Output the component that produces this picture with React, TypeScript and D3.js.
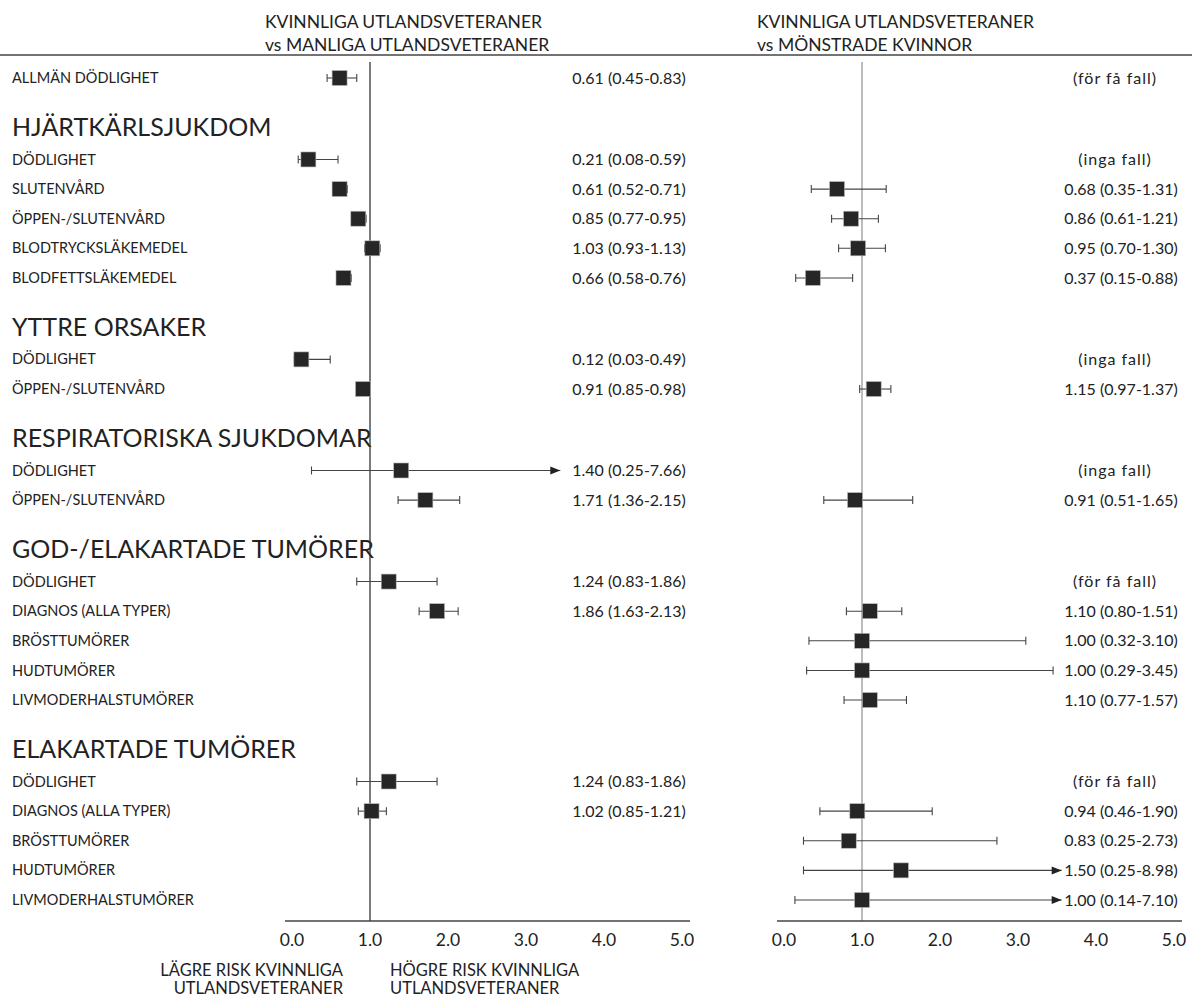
import React from 'react'
import * as d3 from 'd3'

// rows (excluding section headers)
const itemLabels = [
  'ALLMÄN DÖDLIGHET',
  'DÖDLIGHET', 'SLUTENVÅRD', 'ÖPPEN-/SLUTENVÅRD', 'BLODTRYCKSLÄKEMEDEL', 'BLODFETTSLÄKEMEDEL',
  'DÖDLIGHET', 'ÖPPEN-/SLUTENVÅRD',
  'DÖDLIGHET', 'ÖPPEN-/SLUTENVÅRD',
  'DÖDLIGHET', 'DIAGNOS (ALLA TYPER)', 'BRÖSTTUMÖRER', 'HUDTUMÖRER', 'LIVMODERHALSTUMÖRER',
  'DÖDLIGHET', 'DIAGNOS (ALLA TYPER)', 'BRÖSTTUMÖRER', 'HUDTUMÖRER', 'LIVMODERHALSTUMÖRER',
]
const itemSection = [0, 1, 1, 1, 1, 1, 2, 2, 3, 3, 4, 4, 4, 4, 4, 5, 5, 5, 5, 5]
const sectionTitles = ['', 'HJÄRTKÄRLSJUKDOM', 'YTTRE ORSAKER', 'RESPIRATORISKA SJUKDOMAR', 'GOD-/ELAKARTADE TUMÖRER', 'ELAKARTADE TUMÖRER']

// kvinnliga vs manliga utlandsveteraner
const leftEst = [0.61, 0.21, 0.61, 0.85, 1.03, 0.66, 0.12, 0.91, 1.40, 1.71, 1.24, 1.86, null, null, null, 1.24, 1.02, null, null, null]
const leftLo = [0.45, 0.08, 0.52, 0.77, 0.93, 0.58, 0.03, 0.85, 0.25, 1.36, 0.83, 1.63, null, null, null, 0.83, 0.85, null, null, null]
const leftHi = [0.83, 0.59, 0.71, 0.95, 1.13, 0.76, 0.49, 0.98, 7.66, 2.15, 1.86, 2.13, null, null, null, 1.86, 1.21, null, null, null]
const leftNotes: (string | null)[] = itemLabels.map(() => null)

// kvinnliga utlandsveteraner vs mönstrade kvinnor
const rightEst = [null, null, 0.68, 0.86, 0.95, 0.37, null, 1.15, null, 0.91, null, 1.10, 1.00, 1.00, 1.10, null, 0.94, 0.83, 1.50, 1.00]
const rightLo = [null, null, 0.35, 0.61, 0.70, 0.15, null, 0.97, null, 0.51, null, 0.80, 0.32, 0.29, 0.77, null, 0.46, 0.25, 0.25, 0.14]
const rightHi = [null, null, 1.31, 1.21, 1.30, 0.88, null, 1.37, null, 1.65, null, 1.51, 3.10, 3.45, 1.57, null, 1.90, 2.73, 8.98, 7.10]
const rightNotes = ['(för få fall)', '(inga fall)', null, null, null, null, '(inga fall)', null, '(inga fall)', null, '(för få fall)', null, null, null, null, '(för få fall)', null, null, null, null]

const ticks = [0, 1, 2, 3, 4, 5]

const FONT = 'Lato, "DejaVu Sans", sans-serif'
const INK = '#222'

const fmt = d3.format('.2f')

// vertical slot layout: 1 per item, extra space around section headers
const slots: number[] = []
const headerSlots: { title: string; s: number }[] = []
{
  let s = 0
  itemSection.forEach((sec, i) => {
    if (i > 0) {
      if (sec !== itemSection[i - 1]) {
        s += 1.67
        headerSlots.push({ title: sectionTitles[sec], s })
        s += 1.08
      } else s += 1
    }
    slots.push(s)
  })
}
const y = d3.scaleLinear().domain([0, slots[slots.length - 1]]).range([78, 900])

interface PanelProps {
  x0: number
  est: (number | null)[]
  lo: (number | null)[]
  hi: (number | null)[]
  notes: (string | null)[]
  textX: number
  noteX: number
  clip: number
  refColor: string
}

const Panel: React.FC<PanelProps> = ({ x0, est, lo, hi, notes, textX, noteX, clip, refColor }) => {
  const x = d3.scaleLinear().domain([0, 5]).range([x0, x0 + 390])
  const axisY = 921
  const box = 15
  return (
    <g>
      <line x1={x(1)} x2={x(1)} y1={62} y2={axisY} stroke={refColor} strokeWidth={1.3} />
      <line x1={x(0) - 7} x2={x(5) + 8} y1={axisY} y2={axisY} stroke="#444" strokeWidth={1.3} />
      {ticks.map((t) => (
        <text key={t} x={x(t)} y={940} dy="0.35em" textAnchor="middle" fontSize={17.5} fill={INK}>
          {t.toFixed(1)}
        </text>
      ))}
      {est.map((e, i) => {
        const cy = y(slots[i])
        const note = notes[i]
        if (e == null) {
          return note ? (
            <text key={i} x={noteX} y={cy} dy="0.35em" textAnchor="middle" fontSize={16} letterSpacing={1} fill={INK}>
              {note}
            </text>
          ) : null
        }
        const l = lo[i] as number
        const h = hi[i] as number
        const arrow = h > clip
        const xr = x(Math.min(h, clip))
        return (
          <g key={i}>
            <line x1={x(l)} x2={xr} y1={cy} y2={cy} stroke="#444" strokeWidth={1.1} />
            <line x1={x(l)} x2={x(l)} y1={cy - 4} y2={cy + 4} stroke="#444" strokeWidth={1.1} />
            {arrow ? (
              <path d={`M${xr},${cy} L${xr - 10},${cy - 4} L${xr - 10},${cy + 4} Z`} fill="#222" />
            ) : (
              <line x1={xr} x2={xr} y1={cy - 4} y2={cy + 4} stroke="#444" strokeWidth={1.1} />
            )}
            <rect x={x(e) - box / 2} y={cy - box / 2} width={box} height={box} fill="#262626" stroke="#bbb" strokeWidth={0.6} />
            <text x={textX} y={cy} dy="0.35em" textAnchor="middle" fontSize={16} fill={INK}>
              {`${fmt(e)} (${fmt(l)}-${fmt(h)})`}
            </text>
          </g>
        )
      })}
    </g>
  )
}

export default function App() {
  return (
    <svg
      width={1192}
      height={1000}
      style={{ position: 'absolute', left: 0, top: 0, background: '#fff' }}
      fontFamily={FONT}
    >
      <text x={265} y={22} dy="0.35em" fontSize={17.5} fill={INK}>KVINNLIGA UTLANDSVETERANER</text>
      <text x={265} y={45} dy="0.35em" fontSize={17.5} fill={INK}>vs MANLIGA UTLANDSVETERANER</text>
      <text x={757} y={22} dy="0.35em" fontSize={17.5} fill={INK}>KVINNLIGA UTLANDSVETERANER</text>
      <text x={757} y={45} dy="0.35em" fontSize={17.5} fill={INK}>vs MÖNSTRADE KVINNOR</text>
      <line x1={0} x2={1192} y1={55} y2={55} stroke="#444" strokeWidth={1.3} />

      {itemLabels.map((lab, i) => (
        <text key={i} x={12} y={y(slots[i])} dy="0.35em" fontSize={14.5} fill={INK}>
          {lab}
        </text>
      ))}
      {headerSlots.map((h) => (
        <text key={h.title} x={12} y={y(h.s)} dy="0.35em" fontSize={25} fill={INK}>
          {h.title}
        </text>
      ))}

      <Panel x0={292} est={leftEst} lo={leftLo} hi={leftHi} notes={leftNotes} textX={629} noteX={629} clip={3.44} refColor="#333" />
      <Panel x0={784} est={rightEst} lo={rightLo} hi={rightHi} notes={rightNotes} textX={1121} noteX={1115} clip={3.56} refColor="#999" />

      <text x={343} y={970} dy="0.35em" textAnchor="end" fontSize={16.5} fill={INK}>LÄGRE RISK KVINNLIGA</text>
      <text x={343} y={988} dy="0.35em" textAnchor="end" fontSize={16.5} fill={INK}>UTLANDSVETERANER</text>
      <text x={390} y={970} dy="0.35em" fontSize={16.5} fill={INK}>HÖGRE RISK KVINNLIGA</text>
      <text x={390} y={988} dy="0.35em" fontSize={16.5} fill={INK}>UTLANDSVETERANER</text>
    </svg>
  )
}
